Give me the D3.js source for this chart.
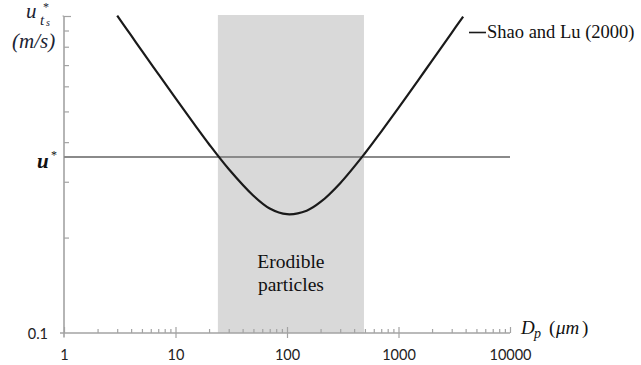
<!DOCTYPE html>
<html>
<head>
<meta charset="utf-8">
<script src="https://cdn.jsdelivr.net/npm/d3@7/dist/d3.min.js"></script>
<style>
  html, body { margin: 0; padding: 0; background: #fff; }
  svg { display: block; }
</style>
</head>
<body>
<script>
// Threshold friction velocity (m/s) versus particle diameter (µm), Shao and Lu (2000)
const diameters = [3, 4, 5, 7, 10, 15, 20, 30, 50, 70, 100, 150, 200, 300, 500, 700, 1000, 1500, 2000, 3000, 3800];
const thresholdVelocity = [1.002, 0.868, 0.776, 0.657, 0.551, 0.452, 0.394, 0.329, 0.271, 0.247, 0.237, 0.243, 0.259, 0.297, 0.369, 0.432, 0.513, 0.627, 0.723, 0.885, 0.996];

// Friction velocity u* and the diameter band it can lift
const frictionVelocity = 0.359;
const erodibleRange = [24, 490];

const xMajorTicks = [1, 10, 100, 1000, 10000];
const yMajorTicks = [0.1];
const seriesName = "Shao and Lu (2000)";

const W = 641, H = 365;
const svg = d3.select("body").append("svg").attr("width", W).attr("height", H);

const x = d3.scaleLog().domain([1, 10000]).range([64, 510]);
const y = d3.scaleLog().domain([0.1, 1]).range([333, 16]);

const axisColor = "#a3a3a3";
const SERIF = "\"Liberation Serif\"";
const NUM = "\"Lato\"";

// Erodible band
svg.append("rect")
  .attr("x", x(erodibleRange[0]))
  .attr("y", y(1) - 1)
  .attr("width", x(erodibleRange[1]) - x(erodibleRange[0]))
  .attr("height", y(0.1) - y(1) + 1)
  .attr("fill", "#d9d9d9");

const bandMid = x(Math.sqrt(erodibleRange[0] * erodibleRange[1]));
["Erodible", "particles"].forEach((line, i) => {
  svg.append("text")
    .attr("x", bandMid)
    .attr("y", 268 + i * 23)
    .attr("text-anchor", "middle")
    .style("font-family", SERIF)
    .style("font-size", "19.5px")
    .attr("fill", "#111")
    .text(line);
});

// Minor ticks for the log axes
const xMinor = [];
for (let p = 0; p < 4; p++) for (let m = 2; m <= 9; m++) xMinor.push(m * Math.pow(10, p));
const yMinor = [];
for (let m = 2; m <= 9; m++) yMinor.push(m / 10);

// X axis
const xAxisG = svg.append("g").attr("transform", `translate(0,${y(0.1)})`);
xAxisG.call(d3.axisTop(x).tickValues(xMinor).tickSize(4).tickFormat(""))
  .call(g => g.select(".domain").remove());
xAxisG.append("g").call(d3.axisTop(x).tickValues(xMajorTicks).tickSize(6).tickFormat(""))
  .call(g => g.select(".domain").remove());
xAxisG.append("g").call(d3.axisBottom(x).tickValues(xMajorTicks.slice(1, 4)).tickSize(5).tickFormat(""))
  .call(g => g.select(".domain").remove());
const xLabels = xAxisG.append("g").call(d3.axisBottom(x).tickValues(xMajorTicks).tickSize(0).tickFormat(d3.format("d")));
xLabels.select(".domain").remove();
xLabels.selectAll("text")
  .attr("y", 27).attr("dy", 0)
  .style("font-family", NUM)
  .style("font-size", "14.5px").attr("fill", "#222");
xAxisG.selectAll(".tick line").attr("stroke", axisColor).attr("stroke-width", 1.2);
xAxisG.append("line")
  .attr("x1", x(1) - 4).attr("x2", x(10000))
  .attr("stroke", axisColor).attr("stroke-width", 1.6);

// Y axis
const yAxisG = svg.append("g").attr("transform", `translate(${x(1)},0)`);
yAxisG.call(d3.axisRight(y).tickValues(yMinor).tickSize(5).tickFormat(""))
  .call(g => g.select(".domain").remove());
yAxisG.append("g").call(d3.axisRight(y).tickValues([1]).tickSize(7).tickFormat(""))
  .call(g => g.select(".domain").remove());
const yLabels = yAxisG.append("g").call(d3.axisLeft(y).tickValues(yMajorTicks).tickSize(0).tickFormat(d3.format(".1")));
yLabels.select(".domain").remove();
yLabels.selectAll("text")
  .attr("x", -16).attr("dy", "0.36em")
  .style("font-family", NUM)
  .style("font-size", "14.5px").attr("fill", "#222");
yAxisG.selectAll(".tick line").attr("stroke", axisColor).attr("stroke-width", 1.2);
yAxisG.append("line")
  .attr("y1", y(1)).attr("y2", y(0.1) + 4.5)
  .attr("stroke", axisColor).attr("stroke-width", 1.6);
yAxisG.append("line")
  .attr("x1", -1.5).attr("x2", 0)
  .attr("y1", y(1)).attr("y2", y(1))
  .attr("stroke", axisColor).attr("stroke-width", 1.2);

// u* reference line
svg.append("line")
  .attr("x1", x(1)).attr("x2", x(10000))
  .attr("y1", y(frictionVelocity)).attr("y2", y(frictionVelocity))
  .attr("stroke", "#8a8a8a").attr("stroke-width", 2);

// Threshold curve
const pts = diameters.map((d, i) => [d, thresholdVelocity[i]]);
svg.append("path")
  .datum(pts)
  .attr("fill", "none")
  .attr("stroke", "#1a1a1a")
  .attr("stroke-width", 2.2)
  .attr("d", d3.line().x(d => x(d[0])).y(d => y(d[1])).curve(d3.curveCatmullRom.alpha(0.5)));

// Legend
svg.append("line")
  .attr("x1", 469).attr("x2", 486).attr("y1", 32.5).attr("y2", 32.5)
  .attr("stroke", "#1a1a1a").attr("stroke-width", 1.6);
svg.append("text")
  .attr("x", 487).attr("y", 38)
  .style("font-family", SERIF)
  .style("font-size", "18.5px").attr("fill", "#111")
  .text(seriesName);

// Small helper for the math-style labels
function mathText(xPos, yPos, str, size, opts = {}) {
  return svg.append("text")
    .attr("x", xPos).attr("y", yPos)
    .style("font-family", SERIF)
    .style("font-size", size + "px")
    .style("font-style", opts.italic === false ? "normal" : "italic")
    .style("font-weight", opts.bold ? "bold" : "normal")
    .attr("fill", opts.fill || "#111")
    .text(str);
}

// Y axis title: u*_{t_s} (m/s)
mathText(26, 17.5, "u", 21, { fill: "#1b2333" });
mathText(43, 11, "*", 12, { italic: false, fill: "#1b2333" });
mathText(40, 24.5, "t", 15, { fill: "#1b2333" });
mathText(46, 26, "s", 10, { fill: "#1b2333" });
mathText(12, 48, "(m/s)", 21, { fill: "#1b2333" });

// u* label
mathText(37, 168, "u", 21, { bold: true });
mathText(51, 159, "*", 12, { italic: false });

// X axis title: D_p (µm)
mathText(521, 334, "D", 19);
mathText(534, 338, "p", 14);
mathText(549, 334, "(", 19, { italic: false });
mathText(556, 334, "μm", 19);
mathText(582, 334, ")", 19, { italic: false });
</script>
</body>
</html>
